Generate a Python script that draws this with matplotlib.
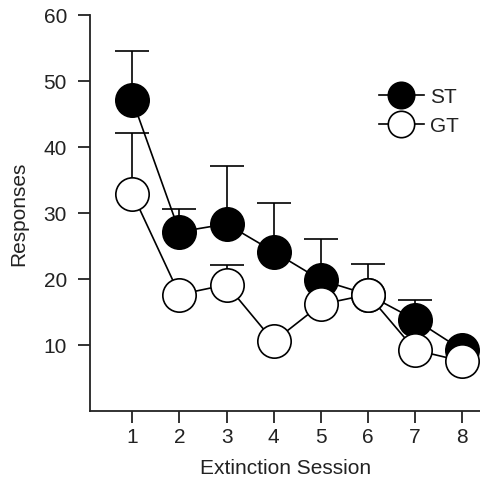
import numpy as np
import matplotlib
matplotlib.use("Agg")
import matplotlib.pyplot as plt
from matplotlib.lines import Line2D

plt.rcParams['font.family'] = ['Liberation Sans', 'DejaVu Sans']

sessions = [1, 2, 3, 4, 5, 6, 7, 8]
st_mean = [47.1, 27.1, 28.3, 24.1, 19.8, 17.6, 13.8, 9.2]
st_err = [7.4, 3.4, 8.8, 7.3, 6.2, 4.7, 2.9, 0.0]
gt_mean = [32.9, 17.6, 19.1, 10.5, 16.1, 17.6, 9.2, 7.5]
gt_err = [9.1, 0.0, 3.0, 0.0, 0.0, 0.0, 0.0, 0.0]

txt = '#222222'
fig = plt.figure(figsize=(4.81, 4.89), dpi=100)
ax = fig.add_axes([0.187, 0.158, 0.813, 0.81])

# upward-only error bars, like the original figure
ax.errorbar(sessions, st_mean, yerr=[np.zeros(8), st_err], color='black',
            marker='o', markersize=24, markerfacecolor='black',
            markeredgecolor='black', markeredgewidth=1.2, linewidth=1.2,
            elinewidth=1.2, capsize=12, capthick=1.2, zorder=2)
ax.errorbar(sessions, gt_mean, yerr=[np.zeros(8), gt_err], color='black',
            marker='o', markersize=24, markerfacecolor='white',
            markeredgecolor='black', markeredgewidth=1.2, linewidth=1.2,
            elinewidth=1.2, capsize=12, capthick=1.2, zorder=3)

ax.set_xlim(0.1, 8.4)
ax.set_ylim(0, 60)
ax.set_xticks(sessions)
ax.set_yticks([10, 20, 30, 40, 50, 60])
ax.spines['top'].set_visible(False)
ax.spines['right'].set_visible(False)
for s in ['left', 'bottom']:
    ax.spines[s].set_linewidth(1.3)
    ax.spines[s].set_color('#222222')
ax.tick_params(axis='both', direction='out', length=8.5, width=1.3,
               labelsize=15, color='#222222', labelcolor=txt)
ax.tick_params(axis='y', pad=8)
ax.tick_params(axis='x', pad=3)

ax.set_xlabel('Extinction Session', fontsize=15, labelpad=9, color=txt)
ax.set_ylabel('Responses', fontsize=15, labelpad=11, color=txt)

handles = [
    Line2D([0], [0], color='black', lw=1.2, marker='o', markersize=19,
           markerfacecolor='black', markeredgecolor='black', markeredgewidth=1.2),
    Line2D([0], [0], color='black', lw=1.2, marker='o', markersize=19,
           markerfacecolor='white', markeredgecolor='black', markeredgewidth=1.2),
]
ax.legend(handles, ['ST', 'GT'], loc='upper left', bbox_to_anchor=(0.69, 0.865),
          frameon=False, fontsize=15, handlelength=2.2, handletextpad=0.25,
          labelspacing=0.5, labelcolor=txt)

fig.savefig('out.png', dpi=100)
